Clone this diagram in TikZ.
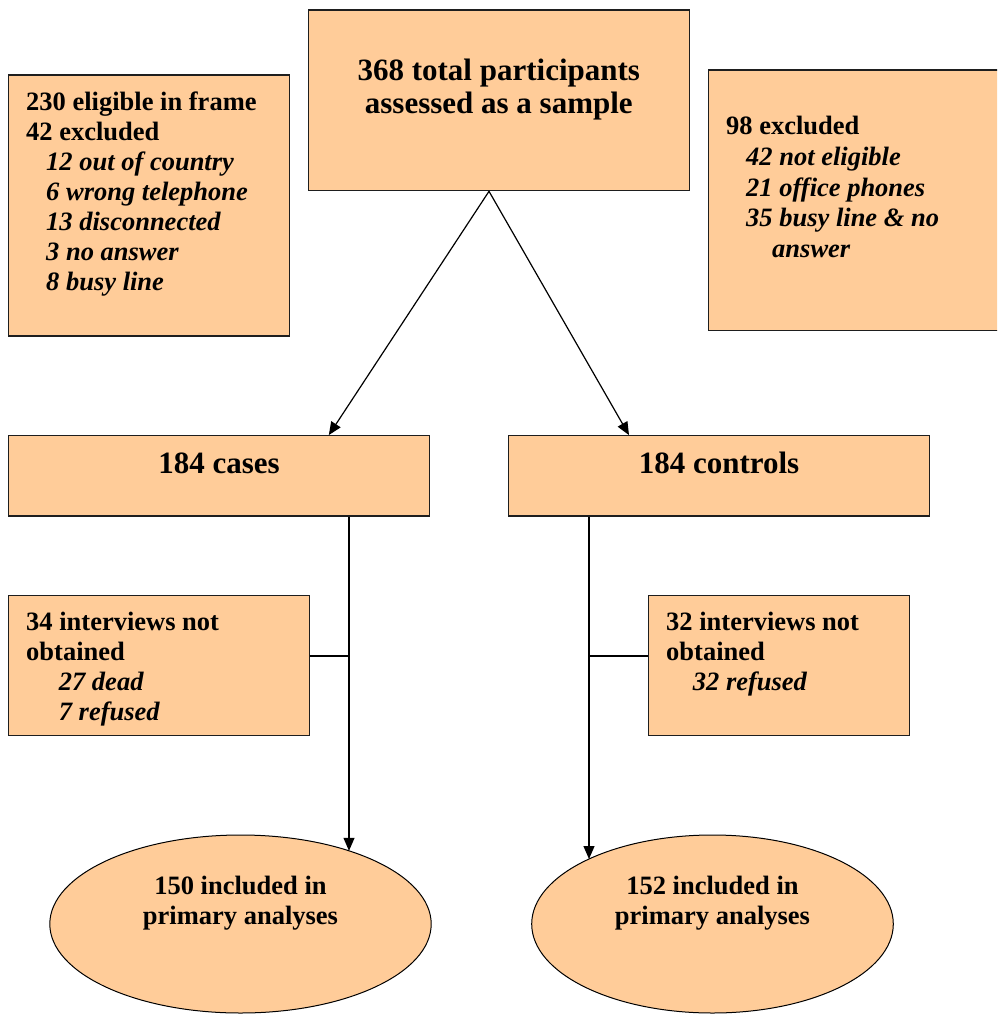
\documentclass[tikz,border=0pt]{standalone}
\usepackage{fontspec}
\setmainfont{Liberation Serif}
\usetikzlibrary{arrows.meta,shapes.geometric,calc}
\definecolor{peach}{RGB}{255,204,153}
\definecolor{edgecol}{RGB}{30,30,30}
\begin{document}
\begin{tikzpicture}[x=1pt,y=-1pt,
  box/.style={draw=edgecol,line width=1.3pt,fill=peach,rectangle,inner sep=0pt},
  oval/.style={draw=black,line width=1pt,fill=peach,ellipse,inner sep=0pt},
  bigtxt/.style={font=\fontsize{31}{33}\selectfont\bfseries,inner sep=0pt},
  smalltxt/.style={font=\fontsize{26.5}{30}\selectfont\bfseries,align=left,inner sep=0pt,anchor=north west},
  conn/.style={line width=1.2pt,draw=black},
  arr/.style={conn,-{Triangle[length=13pt,width=11pt]}}]
\useasboundingbox (0,0) rectangle (997,1014);
\clip (0,0) rectangle (997,1014);
\fill[white] (0,0) rectangle (997,1014);

% boxes
\node[box,minimum width=381pt,minimum height=180.7pt] (top) at (498.8,100.3) {};
\node[box,minimum width=281pt,minimum height=261pt] (lbox) at (148.8,205.5) {};
\node[box,minimum width=300pt,minimum height=260.7pt] (rbox) at (858.3,200.3) {};
\node[box,minimum width=420.7pt,minimum height=80.3pt] (cases) at (218.8,475.9) {};
\node[box,minimum width=420.7pt,minimum height=80.3pt] (controls) at (719,475.9) {};
\node[box,minimum width=301pt,minimum height=140pt] (m1) at (158.8,665.7) {};
\node[box,minimum width=261pt,minimum height=140pt] (m2) at (778.8,665.7) {};
\node[oval,minimum width=381.4pt,minimum height=178pt] (e1) at (240.5,924) {};
\node[oval,minimum width=361.6pt,minimum height=178pt] (e2) at (712.5,924) {};

% texts
\node[bigtxt,align=center,anchor=north] (toptxt) at (498.8,59) {368 total participants\\assessed as a sample};
\node[smalltxt] (ltxt) at (26,91.7) {230 eligible in frame\\42 excluded\\
  \hspace*{20pt}\textit{12 out of country}\\
  \hspace*{20pt}\textit{6 wrong telephone}\\
  \hspace*{20pt}\textit{13 disconnected}\\
  \hspace*{20pt}\textit{3 no answer}\\
  \hspace*{20pt}\textit{8 busy line}};
\node[smalltxt,font=\fontsize{26.5}{30.75}\selectfont\bfseries] (rtxt) at (726,116.1) {98 excluded\\
  \hspace*{20pt}\textit{42 not eligible}\\
  \hspace*{20pt}\textit{21 office phones}\\
  \hspace*{20pt}\textit{35 busy line \& no}\\
  \hspace*{46pt}\textit{answer}};
\node[bigtxt,anchor=base] (casestxt) at (219,473.3) {184 cases};
\node[bigtxt,anchor=base] (controlstxt) at (719,473.3) {184 controls};
\node[smalltxt] (m1txt) at (26,612.1) {34 interviews not\\obtained\\
  \hspace*{32.7pt}\textit{27 dead}\\
  \hspace*{32.7pt}\textit{7 refused}};
\node[smalltxt] (m2txt) at (666,612.1) {32 interviews not\\obtained\\
  \hspace*{26.7pt}\textit{32 refused}};
\node[smalltxt,align=center,anchor=north] (e1txt) at (240.5,876.1) {150 included in\\primary analyses};
\node[smalltxt,align=center,anchor=north] (e2txt) at (712.5,876.1) {152 included in\\primary analyses};

% connectors
\coordinate (lx) at (349,0);
\coordinate (rx) at (589,0);
\coordinate (e1hit) at ($(e1.center)+(108.5,-73.2)$);
\coordinate (e2hit) at ($(e2.center)+(-123.5,-65)$);
\draw[arr] ([xshift=-9.8pt]top.south) -- ([xshift=110pt]cases.north);
\draw[arr] ([xshift=-9.8pt]top.south) -- ([xshift=-90pt]controls.north);
\draw[arr] (cases.south -| lx) -- (e1hit);
\draw[arr] (controls.south -| rx) -- (e2hit);
\draw[conn] ([yshift=9.7pt]m1.east) -- ([yshift=9.7pt]m1.east -| lx);
\draw[conn] ([yshift=9.7pt]m2.west) -- ([yshift=9.7pt]m2.west -| rx);
\end{tikzpicture}
\end{document}
